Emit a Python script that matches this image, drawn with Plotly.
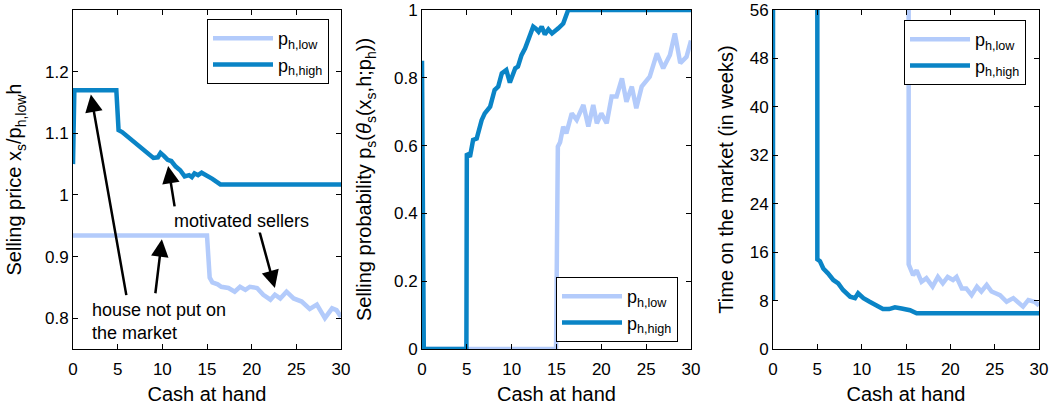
import plotly.graph_objects as go

FONT = "Liberation Sans, Arial, sans-serif"
LIGHT = "#b3cbfb"
DARK = "#0a84c6"
NEVER = 1e4  # house never sold -> infinite time on market

# ---------------- Panel 1: selling price ----------------
price_low_x = [0, 15, 15.3, 15.6, 16.2, 16.6, 17.4, 18.1, 18.7, 19.3, 19.8, 20.6, 21.3, 22.1,
               22.6, 23.2, 23.9, 24.7, 25.6, 26.5, 27.3, 28.2, 29, 29.5, 30]
price_low_y = [0.934, 0.934, 0.866, 0.858, 0.855, 0.851, 0.849, 0.843, 0.851, 0.846, 0.851, 0.849,
               0.838, 0.830, 0.838, 0.832, 0.843, 0.832, 0.827, 0.815, 0.822, 0.800, 0.816, 0.813, 0.802]
price_high_x = [0, 0.15, 4.85, 5.1, 5.5, 6, 6.5, 7, 7.5, 8, 8.5, 9, 9.5, 9.8, 10.2, 10.6, 11, 11.5,
                12, 12.5, 13, 13.3, 13.6, 14, 14.4, 14.8, 15.2, 15.6, 16, 16.5, 30]
price_high_y = [1.05, 1.17, 1.17, 1.105, 1.102, 1.096, 1.09, 1.085, 1.08, 1.073, 1.067, 1.06, 1.061,
                1.068, 1.063, 1.057, 1.055, 1.046, 1.04, 1.03, 1.032, 1.029, 1.035, 1.032, 1.036,
                1.033, 1.031, 1.026, 1.022, 1.017, 1.017]

# ---------------- Panel 2: selling probability ----------------
prob_low_x = [0, 14.95, 15.15, 15.4, 15.75, 16.1, 16.7, 17.25, 18.0, 18.55, 19.1, 19.5, 20.0, 20.6,
              21.15, 21.7, 22.3, 22.8, 23.4, 23.9, 24.5, 25.4, 26.2, 26.9, 27.65, 28.2, 28.8, 29.5, 30]
prob_low_y = [0, 0, 0.597, 0.61, 0.656, 0.636, 0.695, 0.676, 0.72, 0.656, 0.72, 0.666, 0.695, 0.666,
              0.745, 0.745, 0.798, 0.729, 0.774, 0.71, 0.774, 0.803, 0.872, 0.828, 0.867, 0.931,
              0.843, 0.862, 0.91]
prob_high_x = [0, 0.2, 4.95, 5.0, 5.35, 5.7, 6.1, 6.65, 7.0, 7.6, 8.1, 8.5, 8.9, 9.4, 9.8, 10.4, 10.7,
               11.1, 11.5, 11.85, 12.4, 12.7, 13.0, 13.35, 13.7, 14.1, 14.5, 15.2, 15.75, 16.3, 30]
prob_high_y = [0.85, 0, 0, 0.577, 0.567, 0.617, 0.621, 0.675, 0.695, 0.715, 0.764, 0.774, 0.813,
               0.823, 0.786, 0.828, 0.833, 0.867, 0.887, 0.916, 0.951, 0.945, 0.936, 0.951, 0.928,
               0.943, 0.931, 0.946, 0.96, 1.0, 1.0]

# ---------------- Panel 3: time on the market ----------------
time_low_x = [0, 15.15, 15.3, 15.8, 16.2, 16.75, 17.3, 18.0, 18.6, 19.15, 19.7, 20.3, 20.7, 21.3,
              21.8, 22.4, 23.0, 23.5, 24.1, 24.65, 25.6, 26.35, 27.1, 28.2, 28.8, 29.5, 30]
time_low_y = [NEVER, NEVER, 14.0, 12.2, 13.0, 11.1, 11.7, 10.3, 11.9, 10.85, 11.9, 11.4, 11.9, 10.0,
              10.0, 8.9, 10.3, 9.5, 10.6, 9.5, 8.9, 7.8, 8.4, 7.0, 8.1, 7.8, 7.2]
time_high_x = [0, 0.15, 4.95, 5.0, 5.3, 5.67, 6.2, 6.8, 7.36, 7.9, 8.7, 9.25, 9.6, 10.2, 10.9, 11.7,
               12.4, 13.1, 13.75, 14.5, 15.45, 16.2, 30]
time_high_y = [8.1, NEVER, NEVER, 14.8, 14.5, 13.3, 12.5, 11.4, 10.85, 9.75, 8.64, 8.4, 9.2, 8.4, 7.8,
               7.1, 6.6, 6.6, 6.9, 6.7, 6.4, 5.9, 5.9]

names = ["p<sub>h,low</sub>", "p<sub>h,high</sub>"]
x_ticks = [0, 5, 10, 15, 20, 25, 30]
price_ticks = [0.8, 0.9, 1, 1.1, 1.2]
prob_ticks = [0, 0.2, 0.4, 0.6, 0.8, 1]
time_ticks = [0, 8, 16, 24, 32, 40, 48, 56]

fig = go.Figure()
panels = [
    (price_low_x, price_low_y, price_high_x, price_high_y, "x", "y", "legend"),
    (prob_low_x, prob_low_y, prob_high_x, prob_high_y, "x2", "y2", "legend2"),
    (time_low_x, time_low_y, time_high_x, time_high_y, "x3", "y3", "legend3"),
]
for lx, ly, hx, hy, xa, ya, lg in panels:
    fig.add_trace(go.Scatter(x=lx, y=ly, mode="lines", name=names[0],
                             line=dict(color=LIGHT, width=4.5), xaxis=xa, yaxis=ya, legend=lg))
    fig.add_trace(go.Scatter(x=hx, y=hy, mode="lines", name=names[1],
                             line=dict(color=DARK, width=4.5), xaxis=xa, yaxis=ya, legend=lg))

W, H = 1059, 407
ML, MR, MT, MB = 0, 0, 10, 58
PH = H - MT - MB


def px_dom(a, b):
    return [a / W, b / W]


def ax_common(**kw):
    d = dict(showline=True, linecolor="black", linewidth=1, mirror="ticks", ticks="inside",
             ticklen=5, tickcolor="black", showgrid=False, zeroline=False, automargin=False,
             tickfont=dict(size=17, family=FONT, color="black"),
             title_font=dict(size=20, family=FONT, color="black"))
    d.update(kw)
    return d


def xax(dom, anchor):
    return ax_common(domain=px_dom(*dom), range=[0, 30], tickvals=x_ticks, ticklabelstandoff=5,
                     title=dict(text="Cash at hand", standoff=8), anchor=anchor)


def legend_box(xpx, ypx):
    return dict(x=xpx / W, y=(H - MB - ypx) / PH, xanchor="left", yanchor="top",
                bgcolor="white", bordercolor="black", borderwidth=1,
                font=dict(size=18, family=FONT, color="black"), itemwidth=60,
                tracegroupgap=0)


fig.update_layout(
    width=W, height=H, margin=dict(l=ML, r=MR, t=MT, b=MB, autoexpand=False),
    paper_bgcolor="white", plot_bgcolor="white", showlegend=True,
    font=dict(family=FONT, color="black"),
    xaxis=xax((73, 341), "y"),
    yaxis=ax_common(domain=[0, 1], range=[0.75, 1.3], tickvals=price_ticks,
                    title=dict(text="Selling price x<sub>s</sub>/p<sub>h,low</sub>h", standoff=17),
                    anchor="x"),
    xaxis2=xax((422, 691), "y2"),
    yaxis2=ax_common(domain=[0, 1], range=[0, 1], tickvals=prob_ticks,
                     title=dict(text="Selling probability p<sub>s</sub>(<i>θ</i><sub>s</sub>(x<sub>s</sub>,h;p<sub>h</sub>))",
                                standoff=16), anchor="x2"),
    xaxis3=xax((773, 1039), "y3"),
    yaxis3=ax_common(domain=[0, 1], range=[0, 56], tickvals=time_ticks,
                     title=dict(text="Time on the market (in weeks)", standoff=10), anchor="x3"),
    legend=legend_box(207, 19),
    legend2=legend_box(556, 277),
    legend3=legend_box(904, 20),
)

# annotations on panel 1
arrow = dict(showarrow=True, arrowhead=2, arrowsize=1.4, arrowwidth=2.5, arrowcolor="black",
             xref="x", yref="y", axref="x", ayref="y", text="")
fig.add_annotation(x=2.0, y=1.163, ax=6.0, ay=0.835, **arrow)
fig.add_annotation(x=9.95, y=0.928, ax=9.2, ay=0.838, **arrow)
fig.add_annotation(x=10.65, y=1.047, ax=11.4, ay=0.979, **arrow)
fig.add_annotation(x=22.6, y=0.849, ax=20.6, ay=0.955, **arrow)
fig.add_annotation(x=18.9, y=0.957, xref="x", yref="y", text="motivated sellers", showarrow=False,
                   font=dict(size=18, family=FONT, color="black"), bgcolor="white")
fig.add_annotation(x=1.9, y=0.795, xref="x", yref="y", text="house not put on<br>the market",
                   showarrow=False, xanchor="left", align="left",
                   font=dict(size=18, family=FONT, color="black"))

fig.write_html("out.html", config={"displayModeBar": False},
               post_script="document.body.style.margin='0';")
